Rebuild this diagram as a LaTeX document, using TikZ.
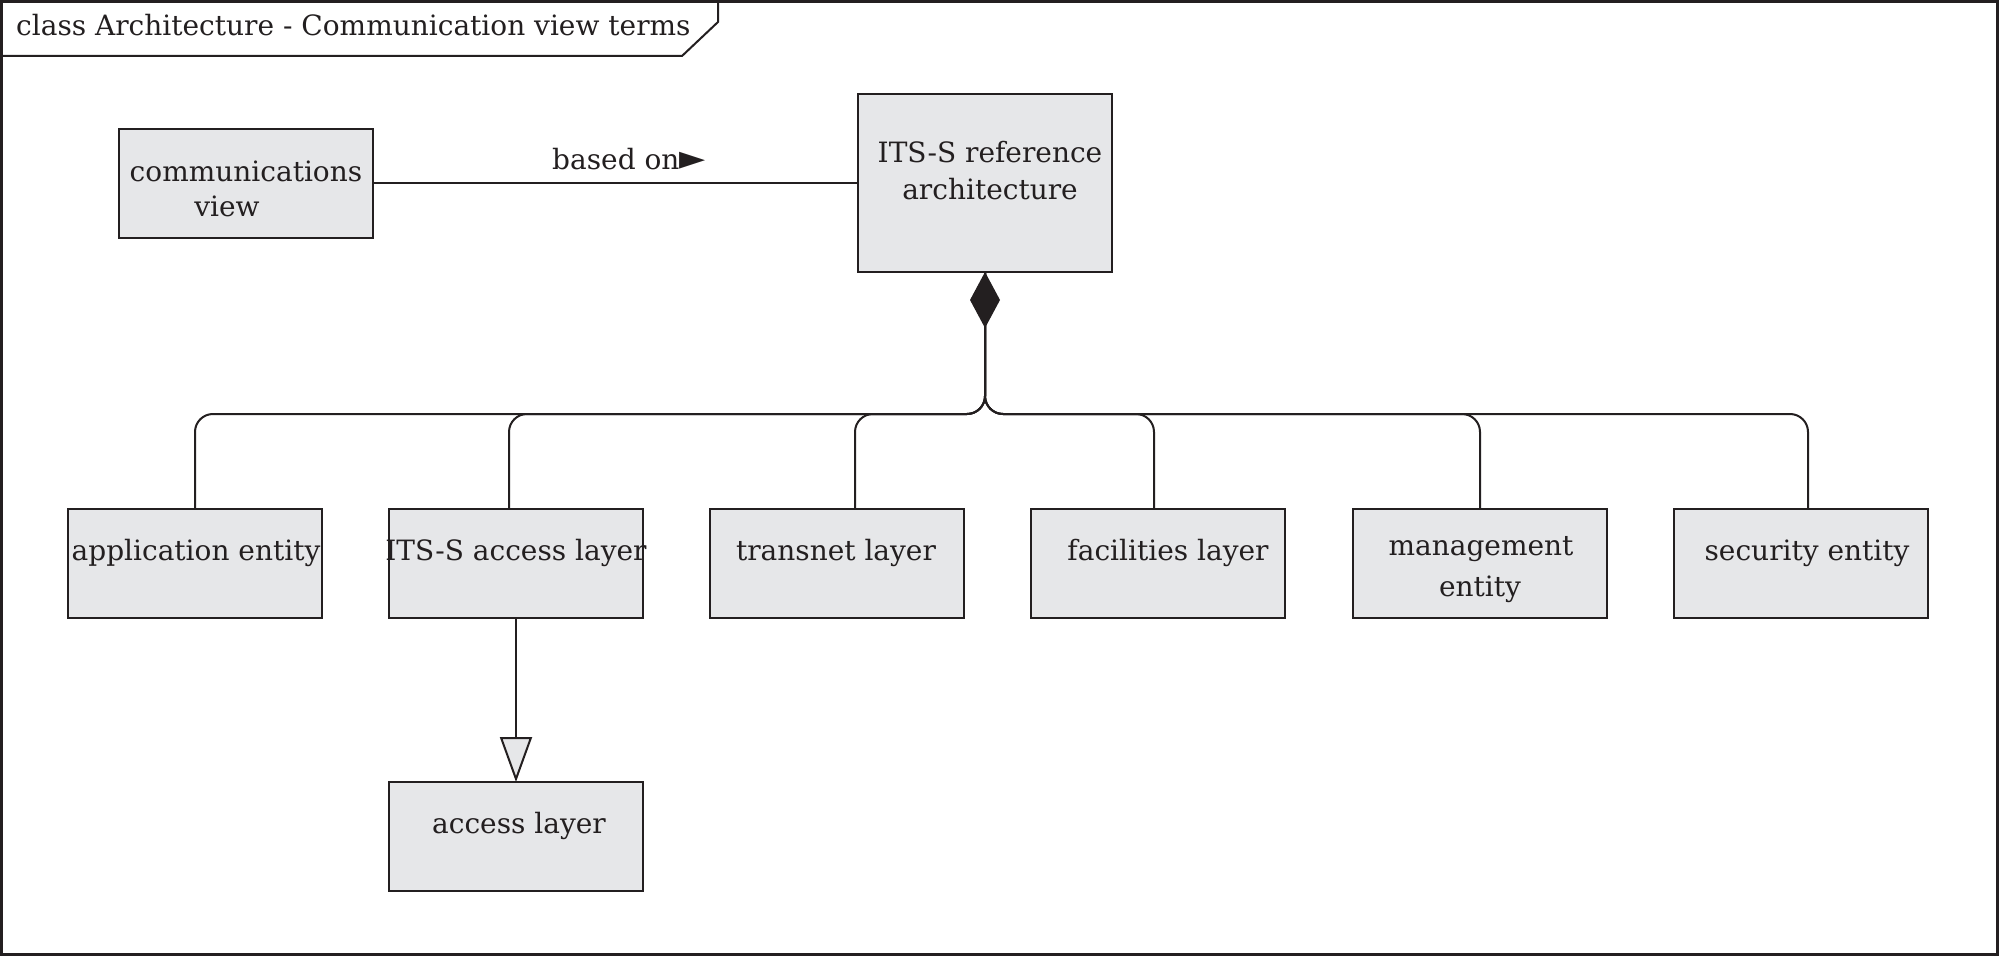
\documentclass[tikz,border=0pt]{standalone}
\usepackage{fontspec}
\setmainfont{DejaVu Serif}
\newfontfamily\symfont{DejaVu Sans}
\usetikzlibrary{arrows.meta}
\definecolor{boxgray}{RGB}{230,231,233}
\definecolor{ink}{RGB}{35,31,32}
\begin{document}
\begin{tikzpicture}[x=1pt,y=-1pt,
  box/.style={draw=ink, fill=boxgray, line width=2pt, minimum width=254pt, minimum height=109pt, inner sep=0pt, outer sep=0pt, anchor=north west},
  txt/.style={font=\fontsize{28}{34}\selectfont, text=ink, inner sep=0pt, anchor=base},
  conn/.style={draw=ink, line width=2pt},
  branch/.style={conn, rounded corners=18pt}]
\useasboundingbox (0,0) rectangle (1999,957);
% frame
\draw[ink, line width=3pt] (1.5,1.5) rectangle (1997,954);
\draw[ink, line width=2pt] (1.5,56) -- (682,56) -- (718,22) -- (718,1.5);
\node[txt, anchor=base west] (title) at (16,36) {class Architecture - Communication view terms};
% boxes
\node[box] (cv) at (119,129) {};
\node[box, minimum height=178pt] (ira) at (858,94) {};
\node[box] (ae) at (68,509) {};
\node[box] (ial) at (389,509) {};
\node[box] (tl) at (710,509) {};
\node[box] (fl) at (1031,509) {};
\node[box] (me) at (1353,509) {};
\node[box] (se) at (1674,509) {};
\node[box] (al) at (389,782) {};
% texts
\node[txt] (cv1) at (246,182) {communications};
\node[txt] (cv2) at (227,217) {view};
\node[txt] (ira1) at (990,163) {ITS-S reference};
\node[txt] (ira2) at (990,200) {architecture};
\node[txt] (aet) at (196,560) {application entity};
\node[txt] (ialt) at (516,560) {ITS-S access layer};
\node[txt] (tlt) at (836,560) {transnet layer};
\node[txt] (flt) at (1168,560) {facilities layer};
\node[txt] (me1) at (1481,555) {management};
\node[txt] (me2) at (1480,596) {entity};
\node[txt] (set) at (1807,560) {security entity};
\node[txt] (alt) at (519,833) {access layer};
% based on
\draw[conn] (cv.east) -- (cv.east -| ira.west);
\node[txt, anchor=base west] (based) at (552,170) {based on{\symfont\fontsize{34}{40}\selectfont ►}};
% composition tree
\coordinate (b1) at (195,414);
\coordinate (b2) at (509,414);
\coordinate (b3) at (855,414);
\coordinate (b4) at (1154,414);
\coordinate (b5) at (1480,414);
\coordinate (b6) at (1808,414);
\coordinate (J) at (ira.south |- b1);
\draw[branch] (b1 |- ae.north) -- (b1) -- (J) -- (ira.south);
\draw[branch] (b2 |- ial.north) -- (b2) -- (J) -- (ira.south);
\draw[branch] (b3 |- tl.north) -- (b3) -- (J) -- (ira.south);
\draw[branch] (b4 |- fl.north) -- (b4) -- (J) -- (ira.south);
\draw[branch] (b5 |- me.north) -- (b5) -- (J) -- (ira.south);
\draw[branch, -{Diamond[length=56pt,width=30pt,fill=ink]}] (b6 |- se.north) -- (b6) -- (J) -- (ira.south);
% generalization
\draw[conn, -{Triangle[length=45pt,width=32pt,fill=boxgray]}] (ial.south) -- (al.north);
\end{tikzpicture}
\end{document}
